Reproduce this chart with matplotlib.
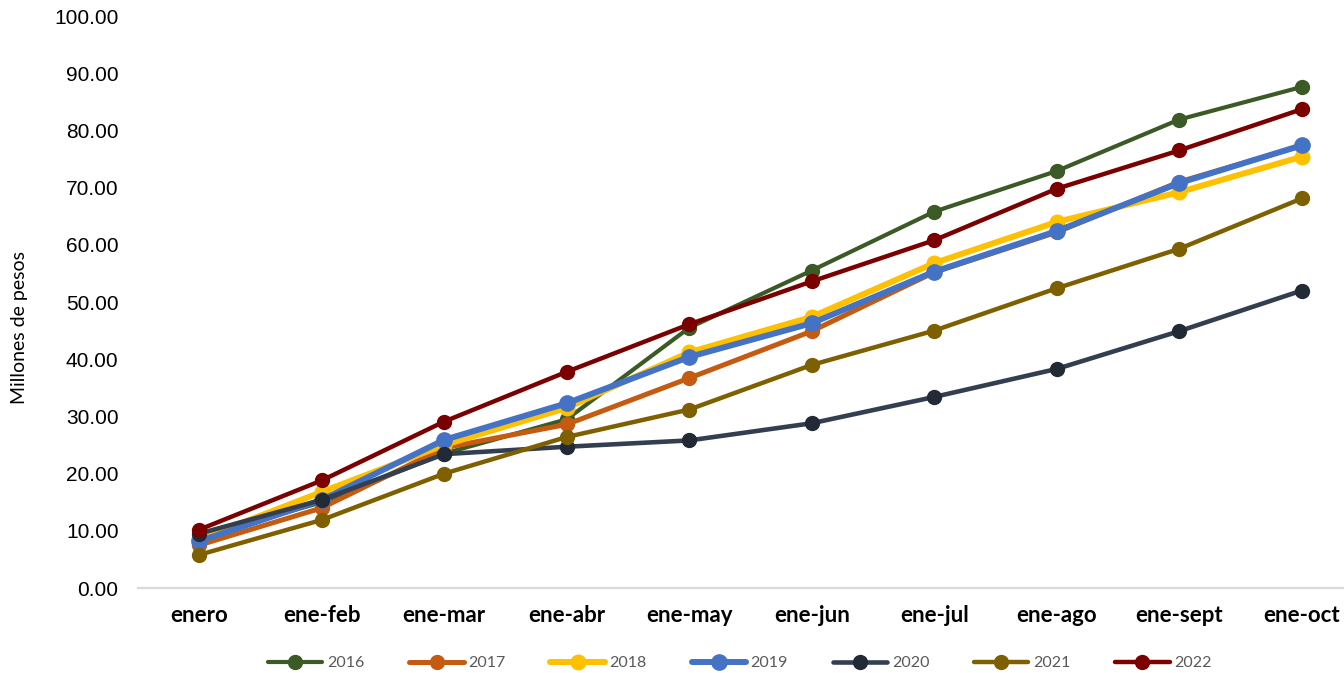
import matplotlib
matplotlib.use('Agg')
import matplotlib.pyplot as plt

# categorías acumuladas
meses = ['enero', 'ene-feb', 'ene-mar', 'ene-abr', 'ene-may',
         'ene-jun', 'ene-jul', 'ene-ago', 'ene-sept', 'ene-oct']

# millones de pesos
v2016 = [8.8, 15.0, 23.5, 29.5, 45.5, 55.5, 65.8, 72.9, 81.9, 87.6]
v2017 = [7.5, 14.0, 24.5, 28.6, 36.7, 44.9, 55.2, 62.2, 71.0, 77.3]
v2018 = [8.5, 16.8, 25.0, 31.5, 41.2, 47.4, 56.8, 64.0, 69.2, 75.4]
v2019 = [8.2, 15.4, 25.9, 32.3, 40.4, 46.3, 55.3, 62.4, 70.8, 77.4]
v2020 = [9.5, 15.4, 23.4, 24.7, 25.8, 28.8, 33.4, 38.3, 44.9, 52.0]
v2021 = [5.8, 11.9, 20.0, 26.4, 31.2, 39.0, 45.0, 52.4, 59.3, 68.1]
v2022 = [10.2, 18.8, 29.1, 37.8, 46.1, 53.6, 60.8, 69.8, 76.5, 83.7]

series = [
    ('2016', v2016, '#3b5a26', '#3b5a26', 3.0, 10),
    ('2017', v2017, '#c55a11', '#c55a11', 3.6, 10),
    ('2018', v2018, '#ffc000', '#ffc000', 4.3, 10.5),
    ('2019', v2019, '#4472c4', '#4472c4', 4.3, 11),
    ('2020', v2020, '#333f50', '#222a35', 3.3, 10),
    ('2021', v2021, '#7f6000', '#7f6000', 3.2, 10),
    ('2022', v2022, '#7b0000', '#7b0000', 3.2, 10),
]

fig = plt.figure(figsize=(13.44, 6.73), dpi=100)
# el eje de categorías se sale un poco por la derecha, como en el original
ax = fig.add_axes([138 / 1344, 85 / 673, 1225 / 1344, 572 / 673])

x = list(range(len(meses)))
for nombre, vals, col, mcol, lw, ms in series:
    ax.plot(x, vals, color=col, linewidth=lw, marker='o', markersize=ms,
            markerfacecolor=mcol, markeredgecolor=mcol, label=nombre,
            solid_capstyle='round', solid_joinstyle='round')

ax.set_xlim(-0.5, 9.5)
ax.set_ylim(0, 100)
ax.set_yticks(range(0, 101, 10))
ax.set_yticklabels([f'{v:.2f}' for v in range(0, 101, 10)],
                   fontsize=15, family='Liberation Sans')
ax.set_xticks(x)
ax.set_xticklabels(meses, fontsize=16, fontweight='bold', family='Lato')
ax.tick_params(axis='both', length=0)
ax.tick_params(axis='y', pad=14)
ax.tick_params(axis='x', pad=12)

for s in ['top', 'right', 'left']:
    ax.spines[s].set_visible(False)
ax.spines['bottom'].set_color('#d9d9d9')
ax.spines['bottom'].set_linewidth(1.6)

fig.text(20 / 1344, 1 - 327 / 673, 'Millones de pesos', rotation=90,
         va='center', ha='center', fontsize=14, family='Lato')

leg = fig.legend(loc='center', bbox_to_anchor=(740 / 1344, 10 / 673),
                 ncol=7, frameon=False, handlelength=3.4, handletextpad=0.3,
                 columnspacing=2.8, prop={'family': 'Lato', 'size': 11.5})
for t in leg.get_texts():
    t.set_color('#595959')

fig.savefig('out.png', dpi=100)
